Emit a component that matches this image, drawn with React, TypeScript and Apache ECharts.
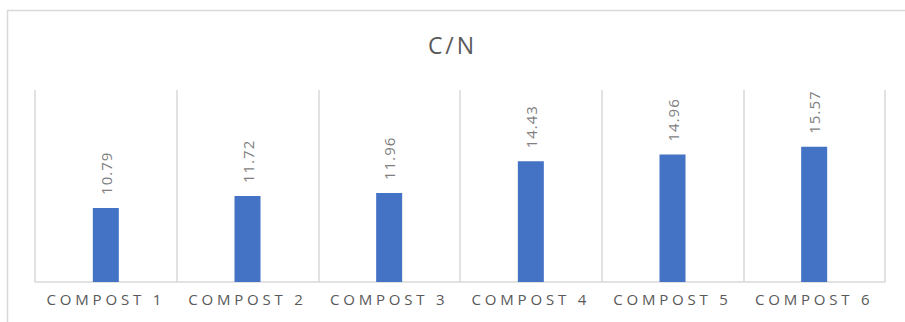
import React, { useEffect, useRef } from "react";
import * as echarts from "echarts";

const categories = ["COMPOST 1", "COMPOST 2", "COMPOST 3", "COMPOST 4", "COMPOST 5", "COMPOST 6"];
const cnValues = [10.79, 11.72, 11.96, 14.43, 14.96, 15.57];
const chartTitle = "C/N";

export default function App() {
  const ref = useRef<HTMLDivElement>(null);
  useEffect(() => {
    document.body.style.margin = "0";
    if (!ref.current) return;
    const el = ref.current;
    const chart = echarts.init(el, undefined, { renderer: "svg" });
    const font = "'Open Sans', sans-serif";
    chart.setOption({
      animation: false,
      backgroundColor: "#ffffff",
      title: {
        text: chartTitle,
        left: "center",
        top: 28,
        textStyle: { fontFamily: font, fontSize: 23, fontWeight: "normal", color: "#595959" },
      },
      graphic: [
        { type: "line", shape: { x1: 7, y1: 10.5, x2: 905, y2: 10.5 }, style: { stroke: "#d9d9d9", lineWidth: 1.5 } },
        { type: "line", shape: { x1: 7.5, y1: 10.5, x2: 7.5, y2: 322 }, style: { stroke: "#d9d9d9", lineWidth: 1.5 } },
      ],
      grid: { left: 35, right: 20, top: 90, bottom: 40 },
      xAxis: {
        type: "category",
        data: categories,
        axisLine: { lineStyle: { color: "#d9d9d9", width: 1.5 } },
        axisTick: { show: false },
        splitLine: { show: true, lineStyle: { color: "#d9d9d9", width: 1.5 } },
        axisLabel: { fontFamily: font, fontSize: 15, color: "#595959", margin: 9, interval: 0 },
      },
      yAxis: {
        type: "value",
        min: 5,
        max: 20,
        show: false,
        splitLine: { show: false },
      },
      series: [
        {
          type: "bar",
          data: cnValues,
          barWidth: 26,
          itemStyle: { color: "#4472c4" },
          label: {
            show: true,
            position: "top",
            distance: 13,
            rotate: 90,
            align: "left",
            verticalAlign: "middle",
            fontFamily: font,
            fontSize: 15,
            color: "#7f7f7f",
            formatter: (p: any) => p.value.toFixed(2),
          },
        },
      ],
    });
    const applySpacing = () => {
      el.querySelectorAll("text").forEach((t) => {
        const s = t.textContent || "";
        if (s.startsWith("COMPOST")) t.setAttribute("letter-spacing", "3.8");
        else if (s === chartTitle) t.setAttribute("letter-spacing", "3");
        else t.setAttribute("letter-spacing", "1");
      });
    };
    chart.on("finished", applySpacing);
    applySpacing();
    const id = window.setTimeout(applySpacing, 50);
    return () => {
      window.clearTimeout(id);
      chart.dispose();
    };
  }, []);
  return <div ref={ref} style={{ width: 905, height: 322 }} />;
}
